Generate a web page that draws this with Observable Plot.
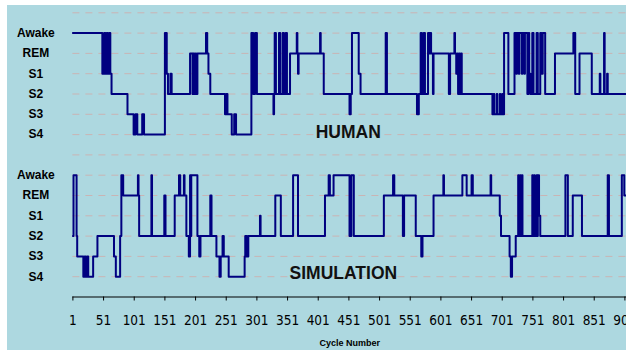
<!DOCTYPE html>
<html>
<head>
<meta charset="utf-8">
<script src="https://cdn.jsdelivr.net/npm/d3@7"></script>
<script src="https://cdn.jsdelivr.net/npm/@observablehq/plot@0.6"></script>
<style>
  html, body { margin: 0; padding: 0; background: #ffffff; }
  #chart { position: absolute; left: 7px; top: 5px; width: 619px; height: 345px; background: #add8e0; overflow: hidden; }
</style>
</head>
<body>
<div id="chart"></div>
<script>
// ---- data ----
const stages = ["Awake", "REM", "S1", "S2", "S3", "S4"];
const seriesNames = ["HUMAN", "SIMULATION"];
const xTicks = [1, 51, 101, 151, 201, 251, 301, 351, 401, 451, 501, 551, 601, 651, 701, 751, 801, 851, 901];
const lastCycle = 905;

// HUMAN hypnogram: cycle where a stage begins, and that stage
const humanCycle = [1, 49, 52, 54, 56, 58, 60, 62, 64, 90, 100, 103, 106, 114, 117, 151, 154, 156, 160, 162,
  192, 196, 197, 199, 201, 202, 204, 218, 220, 222, 225, 249, 251, 253, 260, 264, 267, 292, 295, 298,
  301, 328, 329, 330, 332, 337, 339, 343, 345, 348, 350, 355, 366, 367, 368, 369, 404, 405, 410, 452,
  454, 456, 467, 470, 511, 513, 562, 565, 568, 570, 573, 575, 580, 582, 583, 585, 588, 589, 614, 616,
  623, 624, 626, 628, 629, 631, 632, 634, 635, 685, 687, 688, 692, 693, 697, 698, 701, 702, 704, 711,
  721, 724, 725, 728, 729, 733, 734, 737, 738, 742, 744, 745, 747, 750, 752, 757, 759, 763, 765, 767,
  771, 787, 817, 820, 827, 847, 860, 861, 867, 868, 872, 873];
const humanStage = ["Awake", "S1", "Awake", "S1", "Awake", "S1", "Awake", "S1", "S2", "S3", "S4", "S3", "S4", "S3", "S4", "Awake", "S1", "S2", "S1", "S2",
  "REM", "S2", "REM", "S2", "REM", "S2", "REM", "Awake", "REM", "S1", "S2", "S3", "S2", "S3", "S4", "S3", "S4", "Awake", "S2", "Awake",
  "S2", "S3", "S2", "Awake", "S2", "Awake", "S2", "Awake", "S2", "Awake", "S2", "REM", "Awake", "REM", "S1", "REM", "Awake", "REM", "S2", "S3",
  "S2", "Awake", "S1", "S2", "Awake", "S2", "S3", "S2", "Awake", "S2", "Awake", "S2", "Awake", "REM", "Awake", "REM", "S2", "REM", "S2", "REM",
  "Awake", "REM", "S1", "REM", "S2", "REM", "S2", "REM", "S2", "S3", "S2", "S3", "S2", "S3", "S2", "S3", "S2", "S3", "Awake", "S2",
  "Awake", "S1", "Awake", "S1", "Awake", "S1", "Awake", "S1", "Awake", "S2", "Awake", "S1", "S2", "Awake", "S2", "Awake", "S2", "Awake", "S1", "Awake",
  "S2", "REM", "Awake", "S2", "REM", "S2", "S1", "S2", "Awake", "S2", "S1", "S2"];

// SIMULATION hypnogram
const simCycle = [1, 2, 7, 8, 18, 20, 22, 24, 26, 34, 41, 68, 71, 78, 80, 83, 107, 108, 109, 129,
  130, 150, 152, 167, 174, 176, 182, 183, 186, 190, 192, 193, 194, 204, 207, 209, 225, 227, 235, 240,
  242, 245, 247, 255, 281, 282, 283, 284, 285, 287, 306, 307, 331, 340, 360, 368, 412, 418, 420, 426,
  452, 455, 459, 508, 523, 525, 539, 541, 560, 569, 571, 589, 605, 606, 636, 643, 651, 653, 682, 683,
  697, 699, 713, 715, 717, 723, 727, 728, 730, 731, 733, 734, 750, 751, 753, 754, 757, 758, 759, 761,
  763, 804, 808, 816, 831, 873, 875, 896, 900];
const simStage = ["S2", "Awake", "S2", "S3", "S4", "S3", "S4", "S3", "S4", "S3", "S2", "S3", "S4", "S2", "Awake", "REM", "Awake", "REM", "S2", "Awake",
  "S2", "REM", "S2", "REM", "Awake", "REM", "Awake", "REM", "S2", "S3", "Awake", "S2", "Awake", "S2", "S3", "S2", "REM", "S2", "S3", "S4",
  "S3", "S2", "S3", "S4", "S3", "S2", "S3", "S2", "S3", "S2", "S1", "S2", "REM", "S2", "Awake", "S2", "REM", "Awake", "REM", "Awake",
  "S2", "Awake", "S2", "REM", "Awake", "REM", "S2", "REM", "S2", "S3", "S2", "REM", "Awake", "REM", "Awake", "REM", "Awake", "REM", "Awake", "REM",
  "S1", "S2", "S3", "S4", "S3", "S2", "Awake", "S2", "Awake", "S2", "Awake", "S2", "Awake", "S2", "Awake", "S2", "Awake", "S2", "Awake", "S1",
  "S2", "Awake", "S2", "REM", "S2", "Awake", "S2", "Awake", "REM"];

// ---- build table ----
// each panel shares one vertical axis: SIMULATION uses levels 1..6, HUMAN 8..13
const panelOffset = {HUMAN: 7, SIMULATION: 0};
const levelOf = (s, name) => (stages.length - stages.indexOf(s)) + panelOffset[name];
function build(cycles, st, name) {
  const out = cycles.map((c, i) => ({cycle: c, level: levelOf(st[i], name), series: name}));
  out.push({cycle: lastCycle, level: levelOf(st[st.length - 1], name), series: name});
  return out;
}
const data = [...build(humanCycle, humanStage, "HUMAN"), ...build(simCycle, simStage, "SIMULATION")];

const tickLevels = [];
const tickText = new Map();
for (const name of seriesNames) for (const s of stages) {
  const v = levelOf(s, name); tickLevels.push(v); tickText.set(v, s);
}
const gridLevels = d3.range(1, 15);

const chart = Plot.plot({
  width: 619,
  height: 345,
  marginLeft: 65.4,
  marginRight: 0,
  marginTop: 7.3,
  marginBottom: 53.5,
  style: {background: "transparent", fontFamily: "'Liberation Sans', Arial, sans-serif", color: "#000"},
  x: {domain: [1, 901], range: [65.4, 617.4]},
  y: {domain: [0, 14]},
  marks: [
    Plot.ruleY(gridLevels, {stroke: "#c9b4b4", strokeDasharray: "7,6", strokeWidth: 1}),
    Plot.ruleY([0], {stroke: "#000", strokeWidth: 1.2}),
    Plot.axisX({ticks: xTicks, tickFormat: d => String(d), tickSize: 4, tickPadding: 14, label: null,
      fontSize: 13.5, fontFamily: "'Liberation Sans Narrow', 'Arial Narrow', 'DejaVu Sans Condensed', sans-serif", stroke: "#000", fill: "#000"}),
    Plot.axisY({ticks: tickLevels, tickFormat: d => tickText.get(d), tickSize: 0, tickPadding: 37, textAnchor: "middle",
      label: null, fontWeight: "bold", fontSize: 12, fill: "#000"}),
    Plot.line(data, {x: "cycle", y: "level", z: "series", curve: "step-after", stroke: "#000080", strokeWidth: 2}),
    Plot.text([seriesNames[0]], {x: 450, y: 8.1, text: d => d, fontWeight: "bold", fontSize: 17.5, fill: "#111"}),
    Plot.text([seriesNames[1]], {x: 442, y: 1.15, text: d => d, fontWeight: "bold", fontSize: 17.5, fill: "#111"}),
    Plot.text(["Cycle Number"], {frameAnchor: "bottom", dy: 48.5, text: d => d, fontWeight: "bold", fontSize: 9, fill: "#000"})
  ]
});
document.getElementById("chart").appendChild(chart);
</script>
</body>
</html>
